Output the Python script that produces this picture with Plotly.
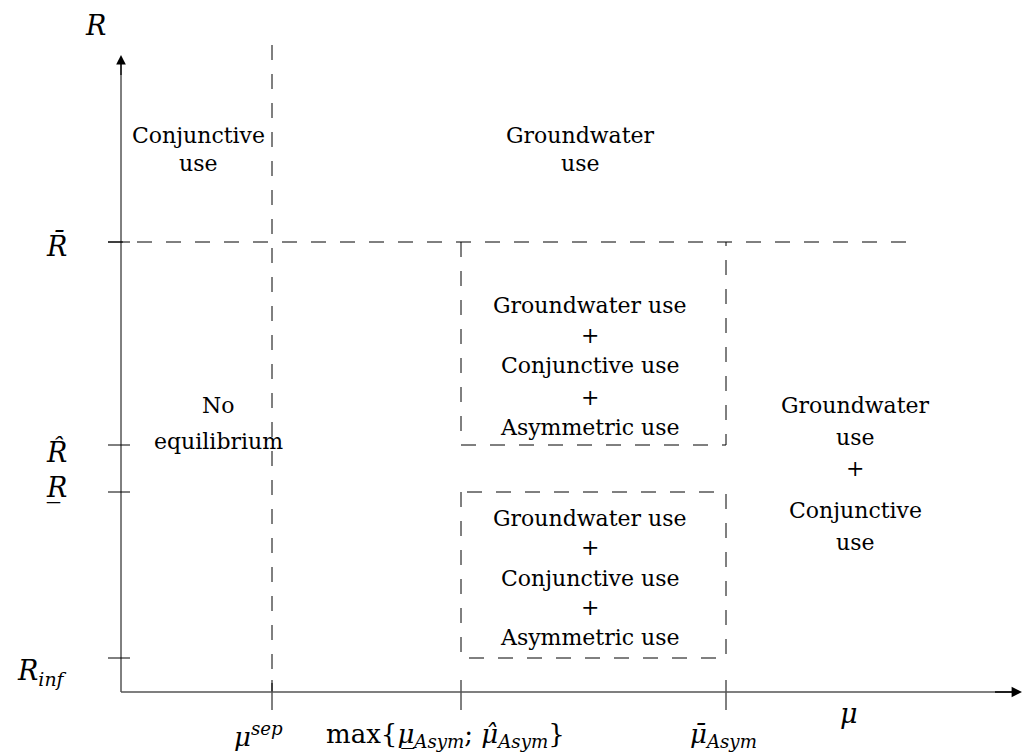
import plotly.graph_objects as go

# ---- data: threshold positions on each axis (abstract units) ----
mu_ticks = [151, 340, 605]
mu_labels = [
    "<i>μ</i><sup><i>sep</i></sup>",
    "max{<i>μ̲</i><sub><i>Asym</i></sub>; <i>μ̂</i><sub><i>Asym</i></sub>}",
    "<i>μ̄</i><sub><i>Asym</i></sub>",
]
R_ticks = [34, 200, 247, 450]
R_labels = [
    "<i>R</i><sub><i>inf</i></sub>",
    "<i>R̲</i>",
    "<i>R̂</i>",
    "<i>R̄</i>",
]
x_axis_end = 901
y_axis_end = 637

# region descriptions
region_texts = [
    ["Conjunctive", "use"],
    ["Groundwater", "use"],
    ["No", "equilibrium"],
    ["Groundwater use", "+", "Conjunctive use", "+", "Asymmetric use"],
    ["Groundwater use", "+", "Conjunctive use", "+", "Asymmetric use"],
    ["Groundwater", "use", "+", "Conjunctive", "use"],
]

# ---- styles / layout ----
W, H = 1024, 753
X0, Y0 = 121, 692  # pixel position of the origin
TEXT_FONT = dict(family="DejaVu Serif", size=22, color="black")
MATH_FONT = dict(family="DejaVu Serif", size=27, color="black")
MU_FONT = dict(family="DejaVu Serif", size=26, color="black")
DASH = "15px,14px"

fig = go.Figure()


def line(xs, ys, dash=None, color="black", width=1):
    fig.add_trace(go.Scatter(x=xs, y=ys, mode="lines",
                             line=dict(color=color, width=width, dash=dash),
                             hoverinfo="skip", showlegend=False))


mu_sep, mu_low, mu_bar = mu_ticks
R_inf, R_under, R_hat, R_bar = R_ticks

# dashed separators
line([mu_sep, mu_sep], [y_axis_end + 10, 0], DASH)
line([-13, 787], [R_bar, R_bar], DASH)
# upper box (top is the R-bar line)
line([mu_low, mu_low, mu_bar, mu_bar], [R_bar, R_hat, R_hat, R_bar], DASH)
# lower box
line([mu_low, mu_low, mu_bar, mu_bar, mu_low], [R_under, R_inf, R_inf, R_under, R_under], DASH)

# tick marks
for m in mu_ticks:
    line([m, m], [12, -18])
for r in R_ticks:
    line([-13, 9], [r, r])

# axes
line([0, 0], [0, y_axis_end - 6])
line([0, x_axis_end - 6], [0, 0], color="#555", width=1.6)

annotations = []
# arrow heads
annotations.append(dict(x=x_axis_end, y=0, ax=x_axis_end - 30, ay=0, xref="x", yref="y",
                        axref="x", ayref="y", showarrow=True, arrowhead=2, arrowsize=1.6,
                        arrowwidth=1.3, arrowcolor="black", text=" ", standoff=0))
annotations.append(dict(x=0, y=y_axis_end, ax=0, ay=y_axis_end - 30, xref="x", yref="y",
                        axref="x", ayref="y", showarrow=True, arrowhead=2, arrowsize=1.6,
                        arrowwidth=1.2, arrowcolor="black", text=" ", standoff=0))

# axis names
annotations.append(dict(x=-26, y=667, text="<i>R</i>", showarrow=False, font=MATH_FONT,
                        xref="x", yref="y"))
annotations.append(dict(x=728, y=-21, text="<i>μ</i>", showarrow=False, font=MATH_FONT,
                        xref="x", yref="y"))

# mu tick labels
mu_xshift = [-14, -16, -3]
for m, lab, dx in zip(mu_ticks, mu_labels, mu_xshift):
    annotations.append(dict(x=m, y=-43, text=lab, showarrow=False, font=MU_FONT,
                            xref="x", yref="y", xshift=dx, yanchor="middle"))

# R tick labels
R_yshift = [-14, 4, -7, -3]
for r, lab, dy in zip(R_ticks, R_labels, R_yshift):
    annotations.append(dict(x=-52, y=r, text=lab, showarrow=False, font=MATH_FONT,
                            xref="x", yref="y", xanchor="right", yshift=dy))

# region texts: (center x, list of y for each line)
region_pos = [
    (77, [557, 529]),
    (459, [557, 529]),
    (97, [287, 251]),
    (469, [387, 357, 327, 295, 265]),
    (469, [174, 145, 114, 85, 55]),
    (734, [287, 255, 224, 182, 150]),
]
for lines_, (cx, ys) in zip(region_texts, region_pos):
    for t, yy in zip(lines_, ys):
        annotations.append(dict(x=cx, y=yy, text=t, showarrow=False, font=TEXT_FONT,
                                xref="x", yref="y"))

fig.update_layout(
    width=W, height=H,
    margin=dict(l=0, r=0, t=0, b=0),
    paper_bgcolor="white", plot_bgcolor="white",
    xaxis=dict(range=[-X0, W - X0], visible=False, fixedrange=True),
    yaxis=dict(range=[Y0 - H, Y0], visible=False, fixedrange=True),
    annotations=annotations,
    showlegend=False,
)

fig.write_html(
    "out.html",
    config={"displayModeBar": False},
    post_script="document.body.style.margin='0';document.body.style.overflow='hidden';",
)
